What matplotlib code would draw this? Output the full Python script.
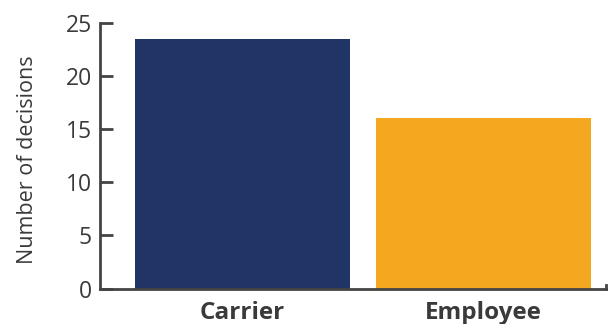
import matplotlib
matplotlib.use("Agg")
import matplotlib.pyplot as plt

categories = ["Carrier", "Employee"]
decisions = [23.5, 16]
colors = ["#203565", "#F4A820"]

plt.rcParams['font.family'] = ['Open Sans', 'DejaVu Sans']

fig = plt.figure(figsize=(6.08, 3.24), dpi=100)
ax = fig.add_axes([0.1645, 0.109, 0.832, 0.821])

x = range(len(categories))
ax.bar(x, decisions, width=0.89, color=colors)

ax.set_ylim(0, 25)
ax.set_xlim(-0.591, 1.508)
ax.set_yticks([0, 5, 10, 15, 20, 25])
ax.set_xticks(list(x))
ax.set_xticklabels(categories, fontsize=17.5, fontweight='bold', color='#3a3a3a')
ax.tick_params(axis='y', direction='in', length=9, width=2, color='#444444',
               labelsize=16.5, labelcolor='#3a3a3a', pad=6)
ax.tick_params(axis='x', length=0, pad=9)
ax.set_ylabel("Number of decisions", fontsize=15.5, color='#3a3a3a')
ax.yaxis.set_label_coords(-0.123, 0.485)

for s in ['top', 'right']:
    ax.spines[s].set_visible(False)
for s in ['left', 'bottom']:
    ax.spines[s].set_linewidth(2)
    ax.spines[s].set_color('#444444')

# small upturned end on the x axis
ax.plot([1, 1], [0, 0.3], transform=ax.get_yaxis_transform(), color='#444444',
        lw=2, clip_on=False)

fig.savefig("out.png", dpi=100)
